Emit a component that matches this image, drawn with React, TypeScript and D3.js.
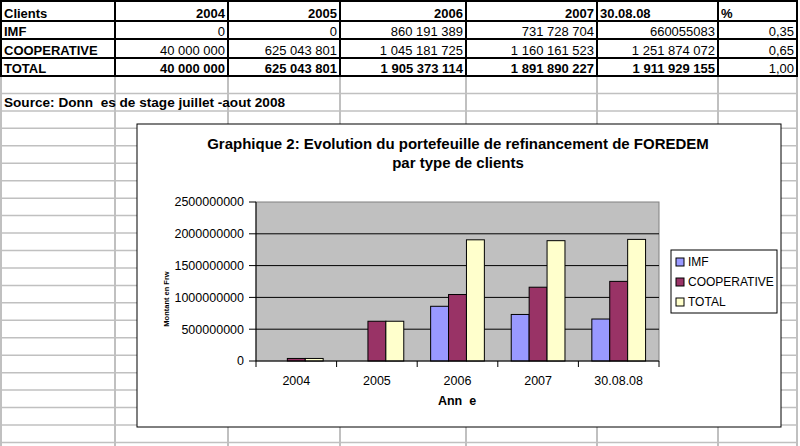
import * as d3 from "d3";

const periods = ["2004", "2005", "2006", "2007", "30.08.08"];
const imf = [0, 0, 860191389, 731728704, 660055083];
const cooperative = [40000000, 625043801, 1045181725, 1160161523, 1251874072];
const total = [40000000, 625043801, 1905373114, 1891890227, 1911929155];
const shares = ["0,35", "0,65", "1,00"];
const rowLabels = ["IMF", "COOPERATIVE", "TOTAL"];
const yTicks = [0, 500000000, 1000000000, 1500000000, 2000000000, 2500000000];

const series = [
  { key: "IMF", values: imf, color: "#9999ff" },
  { key: "COOPERATIVE", values: cooperative, color: "#993366" },
  { key: "TOTAL", values: total, color: "#ffffcc" },
];

const FONT = "'Liberation Sans', Arial, sans-serif";
const W = 800;
const H = 446;

// spreadsheet geometry
const colEdges = [1, 115, 228, 340, 466, 597, 718, 797];
const rowEdges = [1, 21, 39, 58, 76];
const gridStep = 17.45;

// chart geometry
const frame = { x: 137, y: 124, w: 644, h: 303 };
const plot = { left: 256, right: 659, top: 202, bottom: 361 };

const fmt = d3.formatLocale({
  decimal: ",",
  thousands: " ",
  grouping: [3],
  currency: ["", ""],
}).format(",d");

function cellText(row: number, col: number) {
  const v = series[row].values[col];
  // the IMF 30.08.08 cell is stored without grouping in the sheet
  if (row === 0 && col === 4) return String(v);
  return fmt(v);
}

function Sheet() {
  const gridRows: number[] = [];
  for (let y = rowEdges[rowEdges.length - 1] + gridStep; y < H; y += gridStep) gridRows.push(y);
  const header = ["Clients", ...periods, "%"];
  return (
    <g fontFamily={FONT} fontSize={13}>
      {gridRows.map((y, i) => (
        <line key={"gh" + i} x1={0} x2={colEdges[7]} y1={y} y2={y} stroke="#c0c0c0" strokeWidth={1.5} />
      ))}
      {colEdges.map((x, i) => (
        <line key={"gv" + i} x1={x} x2={x} y1={rowEdges[4]} y2={H} stroke="#c0c0c0" strokeWidth={2} />
      ))}
      {/* table */}
      {rowEdges.map((y, i) => (
        <line key={"th" + i} x1={0} x2={colEdges[7] + 1} y1={y} y2={y} stroke="#000" strokeWidth={2} />
      ))}
      {colEdges.map((x, i) => (
        <line key={"tv" + i} x1={x} x2={x} y1={0} y2={rowEdges[4]} stroke="#000" strokeWidth={2} />
      ))}
      {header.map((t, c) => {
        const left = c === 0 || isNaN(Number(t));
        return (
          <text
            key={"h" + c}
            x={left ? colEdges[c] + 3 : colEdges[c + 1] - 3}
            y={rowEdges[1] - 3.5}
            textAnchor={left ? "start" : "end"}
            fontWeight="bold"
          >
            {t}
          </text>
        );
      })}
      {rowLabels.map((lab, r) => {
        const yb = rowEdges[r + 2] - 3.5;
        const bold = r === 2 ? "bold" : "normal";
        return (
          <g key={"r" + r}>
            <text x={colEdges[0] + 3} y={yb} fontWeight="bold">
              {lab}
            </text>
            {periods.map((_, c) => (
              <text key={c} x={colEdges[c + 2] - 3} y={yb} textAnchor="end" fontWeight={bold}>
                {cellText(r, c)}
              </text>
            ))}
            <text x={colEdges[7] - 3} y={yb} textAnchor="end">
              {shares[r]}
            </text>
          </g>
        );
      })}
      <text x={4} y={rowEdges[4] + gridStep * 2 - 4} fontWeight="bold" fontSize={13.6}>
        {"Source: Donn\u00a0\u00a0es de stage juillet -aout 2008"}
      </text>
    </g>
  );
}

function Chart() {
  const x = d3.scaleBand<string>().domain(periods).range([plot.left, plot.right]);
  const inner = d3
    .scaleBand<string>()
    .domain(series.map((s) => s.key))
    .range([0, x.bandwidth()])
    .paddingOuter(0.75);
  const y = d3.scaleLinear().domain([0, 2500000000]).range([plot.bottom, plot.top]);

  return (
    <g fontFamily={FONT}>
      <rect x={frame.x} y={frame.y} width={frame.w} height={frame.h} fill="#fff" stroke="#000" strokeWidth={1} />
      <text x={458} y={149} textAnchor="middle" fontWeight="bold" fontSize={15}>
        Graphique 2: Evolution du portefeuille de refinancement de FOREDEM
      </text>
      <text x={458} y={168} textAnchor="middle" fontWeight="bold" fontSize={15}>
        par type de clients
      </text>
      <rect
        x={plot.left}
        y={plot.top}
        width={plot.right - plot.left}
        height={plot.bottom - plot.top}
        fill="#c0c0c0"
        stroke="#808080"
        strokeWidth={1}
      />
      {yTicks.slice(1, -1).map((t) => (
        <line key={t} x1={plot.left} x2={plot.right} y1={y(t)} y2={y(t)} stroke="#000" strokeWidth={1} />
      ))}
      {series.map((s) =>
        s.values.map((v, i) =>
          v > 0 ? (
            <rect
              key={s.key + i}
              x={x(periods[i])! + inner(s.key)!}
              y={y(v)}
              width={inner.bandwidth()}
              height={y(0) - y(v)}
              fill={s.color}
              stroke="#000"
              strokeWidth={1}
            />
          ) : null
        )
      )}
      {/* axes */}
      <line x1={plot.left} x2={plot.left} y1={plot.top} y2={plot.bottom} stroke="#000" />
      <line x1={plot.left} x2={plot.right} y1={plot.bottom} y2={plot.bottom} stroke="#000" />
      {yTicks.map((t) => (
        <g key={"yt" + t}>
          <line x1={plot.left - 7} x2={plot.left} y1={y(t)} y2={y(t)} stroke="#000" />
          <text x={plot.left - 12} y={y(t)} dy="0.35em" textAnchor="end" fontSize={12.5}>
            {t}
          </text>
        </g>
      ))}
      {[...periods.map((p) => x(p)!), plot.right].map((xx, i) => (
        <line key={"xt" + i} x1={xx} x2={xx} y1={plot.bottom} y2={plot.bottom + 6} stroke="#000" />
      ))}
      {periods.map((p) => (
        <text key={"xl" + p} x={x(p)! + x.bandwidth() / 2} y={385} textAnchor="middle" fontSize={12.5}>
          {p}
        </text>
      ))}
      <text x={457} y={405} textAnchor="middle" fontWeight="bold" fontSize={12.5}>
        {"Ann\u00a0\u00a0e"}
      </text>
      <text
        transform={`translate(169,299) rotate(-90)`}
        textAnchor="middle"
        fontWeight="bold"
        fontSize={7.5}
      >
        Montant en Frw
      </text>
      {/* legend */}
      <rect x={671} y={250} width={106} height={63} fill="#fff" stroke="#000" strokeWidth={1} />
      {series.map((s, i) => (
        <g key={"lg" + s.key} transform={`translate(676,${258 + i * 20})`}>
          <rect x={0} y={0} width={8} height={8} fill={s.color} stroke="#000" strokeWidth={1} />
          <text x={12} y={4} dy="0.35em" fontSize={12}>
            {s.key}
          </text>
        </g>
      ))}
    </g>
  );
}

export default function App() {
  return (
    <svg
      width={W}
      height={H}
      viewBox={`0 0 ${W} ${H}`}
      style={{ position: "absolute", left: 0, top: 0, background: "#fff" }}
    >
      <Sheet />
      <Chart />
    </svg>
  );
}
